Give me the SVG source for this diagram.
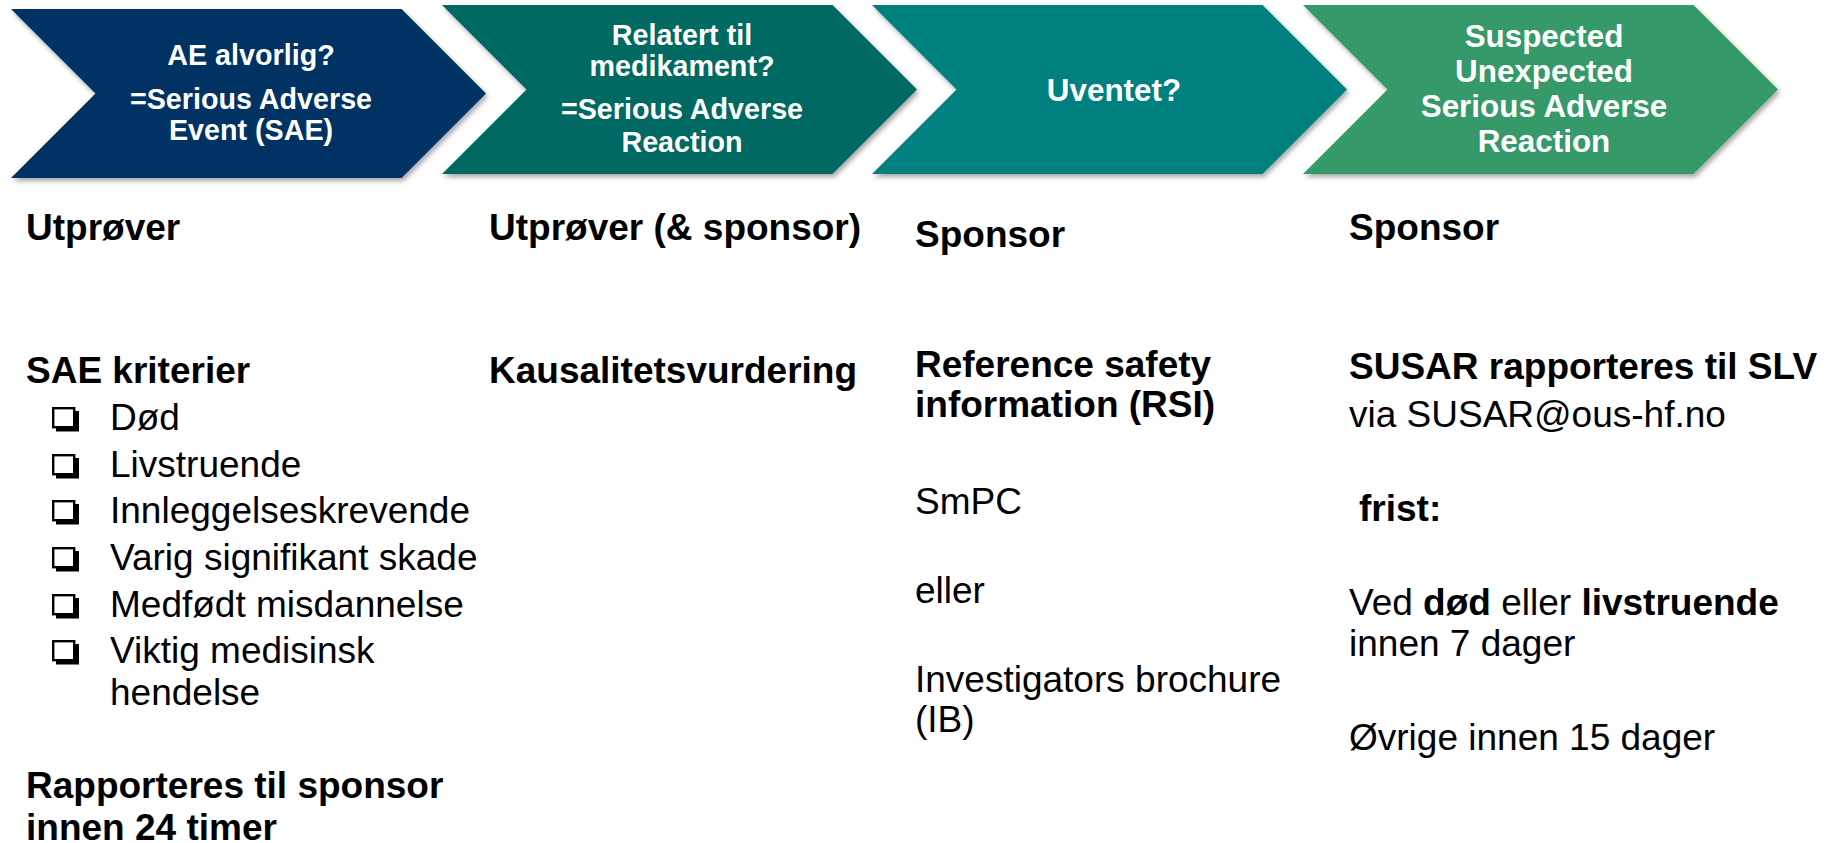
<svg xmlns="http://www.w3.org/2000/svg" width="1832" height="843" viewBox="0 0 1832 843">
  <defs>
    <filter id="shadow" x="-5%" y="-10%" width="115%" height="130%">
      <feDropShadow dx="2" dy="3" stdDeviation="2.5" flood-color="#000" flood-opacity="0.35"/>
    </filter>
    <!-- checkbox bullet: outlined square with drop shadow -->
    <symbol id="box" viewBox="0 0 28 25" width="28" height="25" overflow="visible">
      <rect x="1.2" y="1.2" width="21" height="19" fill="none" stroke="#000" stroke-width="2.4"/>
      <polygon points="22.4,4 27,4 27,24.5 4,24.5 4,20.2 22.4,20.2" fill="#000"/>
    </symbol>
    <style>
      text { font-family: "Liberation Sans", Arial, sans-serif; }
      .step { filter: url(#shadow); }
      .hd { fill: #fff; font-weight: bold; text-anchor: middle; }
      .s1 { font-size: 28.7px; }
      .s2 { font-size: 31.4px; }
      .tx { fill: #000; font-size: 37px; }
      .b { font-weight: bold; }
    </style>
  </defs>

  <rect width="1832" height="843" fill="#fff"/>

  <!-- process chevrons -->
  <g id="steps">
    <g id="step-serious">
      <polygon class="step" fill="#033363" points="11,9 401.5,9 486,93.5 401.5,178 11,178 95.5,93.5"/>
      <text class="hd s1" x="251" y="65">AE alvorlig?</text>
      <text class="hd s1" x="251" y="109">=Serious Adverse</text>
      <text class="hd s1" x="251" y="140">Event (SAE)</text>
    </g>
    <g id="step-related">
      <polygon class="step" fill="#036962" points="442,5 832.5,5 917,89.5 832.5,174 442,174 526.5,89.5"/>
      <text class="hd s1" x="682" y="45">Relatert til</text>
      <text class="hd s1" x="682" y="76">medikament?</text>
      <text class="hd s1" x="682" y="119">=Serious Adverse</text>
      <text class="hd s1" x="682" y="152">Reaction</text>
    </g>
    <g id="step-unexpected">
      <polygon class="step" fill="#00807F" points="872,5 1262.5,5 1347,89.5 1262.5,174 872,174 956.5,89.5"/>
      <text class="hd s2" x="1114" y="101">Uventet?</text>
    </g>
    <g id="step-susar">
      <polygon class="step" fill="#35996A" points="1303,5 1693.5,5 1778,89.5 1693.5,174 1303,174 1387.5,89.5"/>
      <text class="hd s2" x="1544" y="47">Suspected</text>
      <text class="hd s2" x="1544" y="82">Unexpected</text>
      <text class="hd s2" x="1544" y="117">Serious Adverse</text>
      <text class="hd s2" x="1544" y="152">Reaction</text>
    </g>
  </g>

  <!-- column 1: investigator -->
  <g id="col-investigator">
    <text class="tx b" x="26" y="240">Utprøver</text>
    <text class="tx b" x="26" y="383">SAE kriterier</text>
    <use href="#box" x="52" y="407"/>
    <text class="tx" x="110" y="430">Død</text>
    <use href="#box" x="52" y="454"/>
    <text class="tx" x="110" y="477">Livstruende</text>
    <use href="#box" x="52" y="500"/>
    <text class="tx" x="110" y="523">Innleggelseskrevende</text>
    <use href="#box" x="52" y="547"/>
    <text class="tx" x="110" y="570">Varig signifikant skade</text>
    <use href="#box" x="52" y="594"/>
    <text class="tx" x="110" y="617">Medfødt misdannelse</text>
    <use href="#box" x="52" y="640"/>
    <text class="tx" x="110" y="663">Viktig medisinsk</text>
    <text class="tx" x="110" y="705">hendelse</text>
    <text class="tx b" x="26" y="798">Rapporteres til sponsor</text>
    <text class="tx b" x="26" y="840">innen 24 timer</text>
  </g>

  <!-- column 2: investigator and sponsor -->
  <g id="col-causality">
    <text class="tx b" x="489" y="240">Utprøver (&amp; sponsor)</text>
    <text class="tx b" x="489" y="383">Kausalitetsvurdering</text>
  </g>

  <!-- column 3: sponsor, reference safety information -->
  <g id="col-rsi">
    <text class="tx b" x="915" y="247">Sponsor</text>
    <text class="tx b" x="915" y="377">Reference safety</text>
    <text class="tx b" x="915" y="417">information (RSI)</text>
    <text class="tx" x="915" y="514">SmPC</text>
    <text class="tx" x="915" y="603">eller</text>
    <text class="tx" x="915" y="692">Investigators brochure</text>
    <text class="tx" x="915" y="732">(IB)</text>
  </g>

  <!-- column 4: sponsor, SUSAR reporting -->
  <g id="col-reporting">
    <text class="tx b" x="1349" y="240">Sponsor</text>
    <text class="tx b" x="1349" y="379">SUSAR rapporteres til SLV</text>
    <text class="tx" x="1349" y="427">via SUSAR@ous-hf.no</text>
    <text class="tx b" x="1359" y="521">frist:</text>
    <text class="tx" x="1349" y="615">Ved <tspan class="b">død</tspan> eller <tspan class="b">livstruende</tspan></text>
    <text class="tx" x="1349" y="656">innen 7 dager</text>
    <text class="tx" x="1349" y="750">Øvrige innen 15 dager</text>
  </g>
</svg>
